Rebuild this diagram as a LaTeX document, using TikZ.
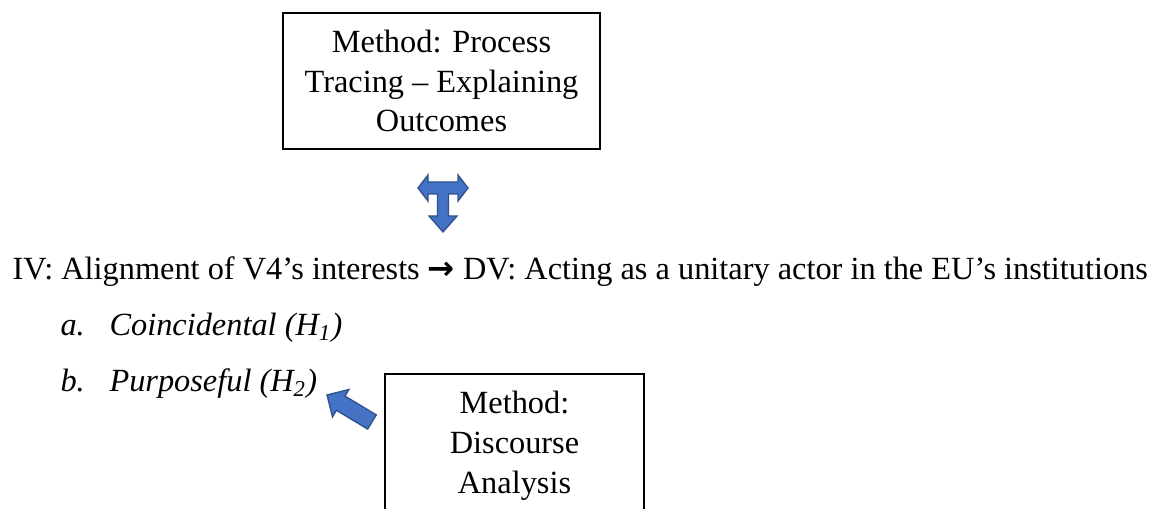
\documentclass[tikz,border=0pt]{standalone}
\usepackage{fontspec}
\setmainfont{Liberation Serif}
\newfontfamily\arrowfont{DejaVu Sans}
\usetikzlibrary{positioning}
\definecolor{officeblue}{RGB}{68,114,196}
\definecolor{officeedge}{RGB}{47,82,143}

\begin{document}
\begin{tikzpicture}[x=0.3756pt, y=-0.3756pt, font=\fontsize{12.15}{15}\selectfont,
  method/.style = {draw, line width=0.6pt, align=center},
  line/.style = {anchor=base west, inner sep=0pt},
  blockarrow/.style = {fill=officeblue, draw=officeedge, line width=0.5pt}]
\useasboundingbox (0,0) rectangle (1154,509);
\clip (0,0) rectangle (1154,509);

\node (pt) [method, minimum width=119.1pt, minimum height=51.1pt] at (441.5,81) {Method: Process\\Tracing – Explaining\\Outcomes};
\node (ivdv) [line] at (12,280) {IV: Alignment of V4’s interests {\arrowfont\bfseries →} DV: Acting as a unitary actor in the EU’s institutions};
\node (a) [line] at (60,336) {\textit{a.}};
\node (coinc) [line] at (109,336) {\textit{Coincidental (H\textsubscript{1})}};
\node (b) [line] at (60,392) {\textit{b.}};
\node (purp) [line] at (109,392) {\textit{Purposeful (H\textsubscript{2})}};
\node (da) [method, anchor=north, minimum width=97.3pt, inner ysep=6.5pt] at (514.5,373) {Method:\\Discourse\\Analysis};

\draw[blockarrow] (418,188) -- (428,175) -- (428,182) -- (458,182) -- (458,175) -- (468,188)
  -- (458,201) -- (458,194) -- (448.5,194) -- (448.5,216) -- (457,216) -- (443,232)
  -- (429,216) -- (437.5,216) -- (437.5,194) -- (428,194) -- (428,201) -- cycle;
\draw[blockarrow] (327,395) -- (348.9,389.5) -- (345,396.1) -- (376.3,414.9)
  -- (367.7,429.1) -- (336.4,410.3) -- (332.5,416.9) -- cycle;
\end{tikzpicture}
\end{document}
